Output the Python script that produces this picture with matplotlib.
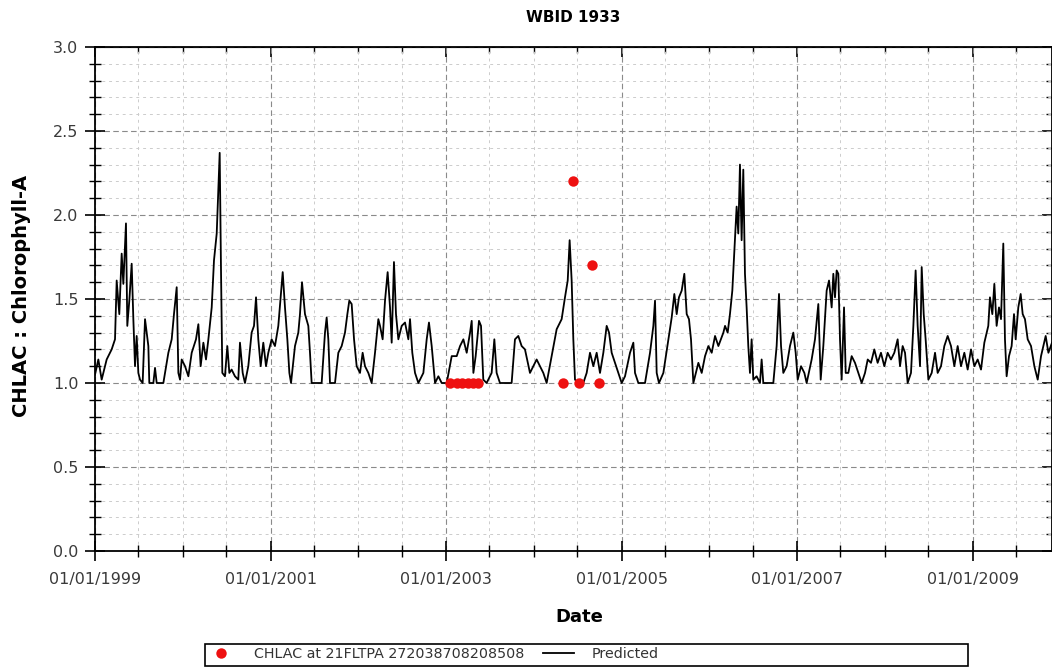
import numpy as np
import pandas as pd
import matplotlib
matplotlib.use("Agg")
import matplotlib.pyplot as plt
import matplotlib.dates as mdates
from matplotlib.ticker import MultipleLocator, FixedLocator, NullFormatter
from matplotlib.patches import Rectangle

# Predicted CHLAC (modelled): decimal year / value
pred_year = [
    1999.000, 1999.038, 1999.076, 1999.133, 1999.190, 1999.228, 1999.247, 1999.277, 1999.304, 1999.323,
    1999.353, 1999.368, 1999.391, 1999.418, 1999.437, 1999.456, 1999.475, 1999.494, 1999.513, 1999.543,
    1999.570, 1999.589, 1999.608, 1999.619, 1999.665, 1999.684, 1999.703, 1999.779, 1999.836, 1999.874,
    1999.900, 1999.931, 1999.950, 1999.969, 1999.988, 2000.026, 2000.064, 2000.102, 2000.151, 2000.178,
    2000.204, 2000.235, 2000.265, 2000.292, 2000.330, 2000.356, 2000.387, 2000.406, 2000.421, 2000.436,
    2000.451, 2000.481, 2000.508, 2000.531, 2000.557, 2000.595, 2000.633, 2000.652, 2000.683, 2000.709,
    2000.747, 2000.785, 2000.812, 2000.835, 2000.861, 2000.888, 2000.918, 2000.949, 2000.975, 2001.013,
    2001.051, 2001.089, 2001.116, 2001.139, 2001.165, 2001.192, 2001.215, 2001.234, 2001.279, 2001.317,
    2001.336, 2001.359, 2001.393, 2001.431, 2001.450, 2001.469, 2001.583, 2001.621, 2001.640, 2001.659,
    2001.678, 2001.735, 2001.773, 2001.811, 2001.849, 2001.876, 2001.898, 2001.925, 2001.952, 2001.982,
    2002.020, 2002.050, 2002.077, 2002.115, 2002.153, 2002.191, 2002.229, 2002.248, 2002.278, 2002.305,
    2002.335, 2002.362, 2002.381, 2002.407, 2002.430, 2002.457, 2002.495, 2002.533,
    2002.571, 2002.590, 2002.616, 2002.647, 2002.685, 2002.742, 2002.780, 2002.806, 2002.837, 2002.875,
    2002.913, 2002.951, 2003.008, 2003.065, 2003.122, 2003.160, 2003.198, 2003.236, 2003.274, 2003.293,
    2003.312, 2003.338, 2003.376, 2003.399, 2003.425, 2003.463, 2003.520, 2003.551, 2003.577, 2003.615,
    2003.748, 2003.786, 2003.824, 2003.862, 2003.900, 2003.957, 2003.995, 2004.033, 2004.071, 2004.109,
    2004.147, 2004.204, 2004.261, 2004.318, 2004.356, 2004.387, 2004.409, 2004.432, 2004.451, 2004.470,
    2004.508, 2004.565, 2004.603, 2004.641, 2004.679, 2004.717, 2004.755, 2004.793, 2004.831, 2004.858,
    2004.888, 2004.926, 2004.964, 2005.002, 2005.040, 2005.097, 2005.135, 2005.154, 2005.192, 2005.268,
    2005.325, 2005.363, 2005.382, 2005.401, 2005.427, 2005.477, 2005.534, 2005.572, 2005.602, 2005.629,
    2005.655, 2005.686, 2005.716, 2005.743, 2005.769, 2005.792, 2005.819, 2005.876, 2005.914, 2005.952,
    2005.990, 2006.028, 2006.066, 2006.104, 2006.161,
    2006.180, 2006.210, 2006.236, 2006.263, 2006.293, 2006.312, 2006.331, 2006.350, 2006.369, 2006.388,
    2006.407, 2006.426, 2006.445, 2006.464, 2006.483, 2006.502, 2006.540, 2006.578, 2006.597, 2006.616,
    2006.730, 2006.768, 2006.795, 2006.818, 2006.844, 2006.882, 2006.920, 2006.958, 2006.985, 2007.008,
    2007.046, 2007.084, 2007.110, 2007.167, 2007.205, 2007.243, 2007.270, 2007.300, 2007.338, 2007.365,
    2007.395, 2007.414, 2007.433, 2007.452, 2007.471, 2007.490, 2007.509, 2007.536, 2007.555, 2007.585,
    2007.623, 2007.661, 2007.699, 2007.737, 2007.775, 2007.806, 2007.843, 2007.881, 2007.919, 2007.957,
    2007.995, 2008.033, 2008.071, 2008.109, 2008.147, 2008.174, 2008.204, 2008.231, 2008.261, 2008.299,
    2008.326, 2008.352, 2008.375, 2008.402, 2008.421, 2008.444, 2008.466, 2008.497, 2008.535, 2008.573,
    2008.603, 2008.641, 2008.679, 2008.717, 2008.755, 2008.793, 2008.831, 2008.869, 2008.907, 2008.945,
    2008.983, 2009.021, 2009.059, 2009.097, 2009.135, 2009.180, 2009.199, 2009.226, 2009.249, 2009.275,
    2009.302, 2009.325, 2009.351, 2009.370, 2009.389, 2009.416, 2009.446, 2009.473, 2009.492, 2009.522,
    2009.549, 2009.572, 2009.598, 2009.629, 2009.667, 2009.705, 2009.743, 2009.781, 2009.807, 2009.834,
    2009.865, 2009.906,
]
pred_chla = [
    1.05, 1.14, 1.02, 1.14, 1.20, 1.26, 1.61, 1.41, 1.77, 1.59,
    1.95, 1.34, 1.49, 1.71, 1.38, 1.10, 1.28, 1.06, 1.02, 1.00,
    1.38, 1.30, 1.22, 1.00, 1.00, 1.09, 1.00, 1.00, 1.18, 1.26,
    1.41, 1.57, 1.06, 1.02, 1.14, 1.10, 1.04, 1.18, 1.26, 1.35,
    1.10, 1.24, 1.14, 1.26, 1.45, 1.73, 1.89, 2.15, 2.37, 1.67,
    1.06, 1.04, 1.22, 1.06, 1.08, 1.04, 1.02, 1.24, 1.06, 1.00,
    1.10, 1.30, 1.34, 1.51, 1.26, 1.10, 1.24, 1.10, 1.18, 1.26,
    1.22, 1.34, 1.51, 1.66, 1.45, 1.26, 1.06, 1.00, 1.22, 1.30,
    1.41, 1.60, 1.41, 1.34, 1.18, 1.00, 1.00, 1.30, 1.39, 1.26,
    1.00, 1.00, 1.18, 1.22, 1.30, 1.41, 1.49, 1.47, 1.26, 1.10,
    1.06, 1.18, 1.10, 1.06, 1.00, 1.18, 1.38, 1.34, 1.26, 1.49,
    1.66, 1.45, 1.24, 1.72, 1.41, 1.26, 1.34, 1.36,
    1.26, 1.38, 1.18, 1.06, 1.00, 1.06, 1.26, 1.36, 1.22, 1.00,
    1.04, 1.00, 1.00, 1.16, 1.16, 1.22, 1.26, 1.18, 1.30, 1.37,
    1.06, 1.16, 1.37, 1.34, 1.02, 1.00, 1.06, 1.26, 1.06, 1.00,
    1.00, 1.26, 1.28, 1.22, 1.20, 1.06, 1.10, 1.14, 1.10, 1.06,
    1.00, 1.16, 1.32, 1.38, 1.51, 1.61, 1.85, 1.61, 1.26, 1.02,
    1.00, 1.00, 1.06, 1.18, 1.10, 1.18, 1.06, 1.18, 1.34, 1.30,
    1.18, 1.12, 1.06, 1.00, 1.04, 1.18, 1.24, 1.06, 1.00, 1.00,
    1.18, 1.34, 1.49, 1.06, 1.00, 1.06, 1.26, 1.39, 1.53, 1.41,
    1.51, 1.55, 1.65, 1.41, 1.38, 1.26, 1.00, 1.12, 1.06, 1.16,
    1.22, 1.18, 1.28, 1.22, 1.30,
    1.34, 1.30, 1.41, 1.55, 1.85, 2.05, 1.89, 2.30, 1.85, 2.27,
    1.65, 1.45, 1.22, 1.06, 1.26, 1.02, 1.04, 1.00, 1.14, 1.00,
    1.00, 1.22, 1.53, 1.22, 1.06, 1.10, 1.22, 1.30, 1.18, 1.02,
    1.10, 1.06, 1.00, 1.14, 1.26, 1.47, 1.02, 1.22, 1.55, 1.61,
    1.45, 1.65, 1.51, 1.67, 1.65, 1.26, 1.02, 1.45, 1.06, 1.06,
    1.16, 1.12, 1.06, 1.00, 1.06, 1.14, 1.12, 1.20, 1.12, 1.18,
    1.10, 1.18, 1.14, 1.18, 1.26, 1.10, 1.22, 1.18, 1.00, 1.06,
    1.34, 1.67, 1.34, 1.10, 1.69, 1.41, 1.26, 1.02, 1.06, 1.18,
    1.06, 1.10, 1.22, 1.28, 1.22, 1.10, 1.22, 1.10, 1.18, 1.08,
    1.20, 1.10, 1.14, 1.08, 1.24, 1.34, 1.51, 1.41, 1.59, 1.34,
    1.45, 1.38, 1.83, 1.26, 1.04, 1.16, 1.22, 1.41, 1.26, 1.45,
    1.53, 1.41, 1.38, 1.26, 1.22, 1.10, 1.02, 1.16, 1.22, 1.28,
    1.18, 1.24,
]

# Observed samples at station 21FLTPA 272038708208508
obs_year = [2003.05, 2003.12, 2003.18, 2003.25, 2003.31, 2003.37,
            2004.33, 2004.45, 2004.52, 2004.66, 2004.74]
obs_chla = [1.0, 1.0, 1.0, 1.0, 1.0, 1.0,
            1.0, 2.2, 1.0, 1.7, 1.0]

tick_years = [1999, 2001, 2003, 2005, 2007, 2009]
tick_labels = ["01/01/1999", "01/01/2001", "01/01/2003",
               "01/01/2005", "01/01/2007", "01/01/2009"]

T0 = pd.Timestamp("1999-01-01")


def to_dates(years):
    return T0 + pd.to_timedelta((np.asarray(years) - 1999.0) * 365.25, unit="D")


W, H = 1052, 667
fig = plt.figure(figsize=(W / 100, H / 100), dpi=100)
ax = fig.add_axes([95 / W, 116 / H, (W - 95) / W, 504 / H])

ax.plot(to_dates(pred_year), pred_chla, color="black", lw=1.3, zorder=3,
        label="Predicted")
ax.plot(to_dates(obs_year), obs_chla, "o", color="#ee1111", ms=7.5, mec="none",
        zorder=4, label="CHLAC at 21FLTPA 272038708208508")

ax.set_xlim(T0, to_dates([2009.906])[0])
ax.set_ylim(0, 3.0)

major_x = [mdates.date2num(pd.Timestamp(f"{y}-01-01")) for y in tick_years]
ax.xaxis.set_major_locator(FixedLocator(major_x))
ax.set_xticklabels(tick_labels)
ax.xaxis.set_minor_locator(mdates.MonthLocator(bymonth=[1, 7]))
ax.yaxis.set_major_locator(MultipleLocator(0.5))
ax.yaxis.set_minor_locator(MultipleLocator(0.1))
ax.yaxis.set_major_formatter(matplotlib.ticker.FormatStrFormatter("%.1f"))

ax.grid(which="major", color="#8a8a8a", linestyle=(0, (5, 3)), lw=0.8, zorder=1)
ax.grid(which="minor", color="#cccccc", linestyle=(0, (3, 4)), lw=0.7, zorder=1)

for side in ["left", "bottom", "top", "right"]:
    ax.spines[side].set_linewidth(1.3)
ax.tick_params(which="major", direction="inout", length=14, width=1.2,
               labelsize=11.5, labelcolor="#3a3a3a")
ax.tick_params(which="minor", direction="inout", length=9, width=1.0)
ax.tick_params(axis="x", which="major", pad=8)
ax.tick_params(axis="y", which="major", pad=5)

# top / right ticks point inward only
top = ax.secondary_xaxis("top")
top.xaxis.set_major_locator(FixedLocator(major_x))
top.xaxis.set_minor_locator(mdates.MonthLocator(bymonth=[1, 7]))
top.xaxis.set_major_formatter(NullFormatter())
top.tick_params(which="major", direction="in", length=7, width=1.2)
top.tick_params(which="minor", direction="in", length=4.5, width=1.0)
right = ax.secondary_yaxis("right")
right.yaxis.set_major_locator(MultipleLocator(0.5))
right.yaxis.set_minor_locator(MultipleLocator(0.1))
right.yaxis.set_major_formatter(NullFormatter())
right.tick_params(which="major", direction="in", length=7, width=1.2)
right.tick_params(which="minor", direction="in", length=4.5, width=1.0)

fig.text(573.5 / W, 1 - 18 / H, "WBID 1933", ha="center", va="center",
         fontsize=11, fontweight="bold")
fig.text(579 / W, 1 - 617 / H, "Date", ha="center", va="center",
         fontsize=13, fontweight="bold")
fig.text(22 / W, 1 - 296 / H, "CHLAC : Chlorophyll-A", ha="center", va="center",
         rotation=90, fontsize=14, fontweight="bold")

# legend strip below the axes
handles, labels = ax.get_legend_handles_labels()
leg = fig.legend(handles[::-1], labels[::-1], loc="center left",
                 bbox_to_anchor=(205 / W, 1 - 654.5 / H), ncol=2, frameon=False,
                 fontsize=10.3, handlelength=2.2, handletextpad=1.2,
                 columnspacing=1.3, borderpad=0, borderaxespad=0)
for t in leg.get_texts():
    t.set_color("#333333")
fig.add_artist(Rectangle((205 / W, 1 / H), 763 / W, 22 / H,
                         transform=fig.transFigure, fill=False,
                         edgecolor="black", lw=1.2))

fig.savefig("out.png", dpi=100)
